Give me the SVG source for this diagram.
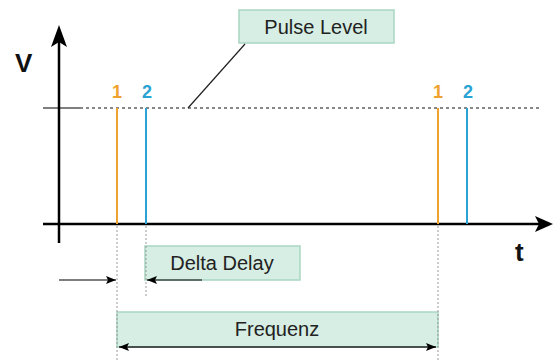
<svg xmlns="http://www.w3.org/2000/svg" width="555" height="360" viewBox="0 0 555 360">
<style>
.box{fill:#d6eee3;stroke:#a9d6c2;stroke-width:1.5}
.lbl{font-family:"Liberation Sans",Arial,sans-serif;font-size:20px;fill:#222}
.ax{font-family:"Liberation Sans",Arial,sans-serif;font-size:26px;font-weight:bold;fill:#111}
.num{font-family:"Liberation Sans",Arial,sans-serif;font-size:18px;font-weight:bold}
.dot{stroke:#999;stroke-width:1;stroke-dasharray:2 2}
</style>
<defs>
<marker id="sm" markerWidth="10" markerHeight="8" refX="10" refY="4" orient="auto" markerUnits="userSpaceOnUse"><path d="M0,0 L10,4 L0,8 L2,4 Z" fill="#000"/></marker>
<marker id="smr" markerWidth="10" markerHeight="8" refX="0" refY="4" orient="auto" markerUnits="userSpaceOnUse"><path d="M10,0 L0,4 L10,8 L8,4 Z" fill="#000"/></marker>
</defs>
<g id="boxes">
<g id="pulse-level"><rect class="box" x="239" y="10" width="155" height="33"/><text class="lbl" x="316" y="34" text-anchor="middle">Pulse Level</text></g>
<g id="delta-delay"><rect class="box" x="145" y="246" width="155" height="34"/><text class="lbl" x="222" y="270" text-anchor="middle">Delta Delay</text></g>
<g id="frequenz"><rect class="box" x="117" y="312" width="321" height="35"/><text class="lbl" x="277" y="336" text-anchor="middle">Frequenz</text></g>
</g>
<g id="axes">
<line x1="59" y1="243" x2="59" y2="30" stroke="#000" stroke-width="2.5"/>
<path d="M59,25 L51,47 L59,42 L67,47 Z" fill="#000"/>
<line x1="43" y1="224" x2="540" y2="224" stroke="#000" stroke-width="2.5"/>
<path d="M553,224 L535,216 L539,224 L535,232 Z" fill="#000"/>
<text class="ax" x="15" y="72">V</text>
<text class="ax" x="515" y="261">t</text>
</g>
<g id="pulses">
<line x1="43" y1="108" x2="80" y2="108" stroke="#000" stroke-width="1.2"/>
<line x1="80" y1="108" x2="540" y2="108" stroke="#111" stroke-width="1.1" stroke-dasharray="3 3"/>
<line x1="117" y1="108" x2="117" y2="224" stroke="#f0a22e" stroke-width="2"/>
<line x1="146" y1="108" x2="146" y2="224" stroke="#2aa2d4" stroke-width="2"/>
<line x1="438" y1="108" x2="438" y2="224" stroke="#f0a22e" stroke-width="2"/>
<line x1="467" y1="108" x2="467" y2="224" stroke="#2aa2d4" stroke-width="2"/>
<text class="num" x="117" y="98" text-anchor="middle" fill="#f0a22e">1</text>
<text class="num" x="147" y="98" text-anchor="middle" fill="#2aa2d4">2</text>
<text class="num" x="438" y="98" text-anchor="middle" fill="#f0a22e">1</text>
<text class="num" x="468" y="98" text-anchor="middle" fill="#2aa2d4">2</text>
</g>
<g id="connectors">
<line x1="245" y1="44" x2="188" y2="108" stroke="#222" stroke-width="1.2"/>
<line class="dot" x1="117" y1="226" x2="117" y2="360"/>
<line class="dot" x1="146" y1="226" x2="146" y2="296"/>
<line class="dot" x1="438" y1="226" x2="438" y2="360"/>
<line x1="59" y1="280" x2="116" y2="280" stroke="#000" stroke-width="1.2" marker-end="url(#sm)"/>
<line x1="202" y1="280" x2="147" y2="280" stroke="#000" stroke-width="1.2" marker-end="url(#sm)"/>
<line x1="119" y1="347" x2="436" y2="347" stroke="#222" stroke-width="1.5" marker-start="url(#smr)" marker-end="url(#sm)"/>
</g>
</svg>
